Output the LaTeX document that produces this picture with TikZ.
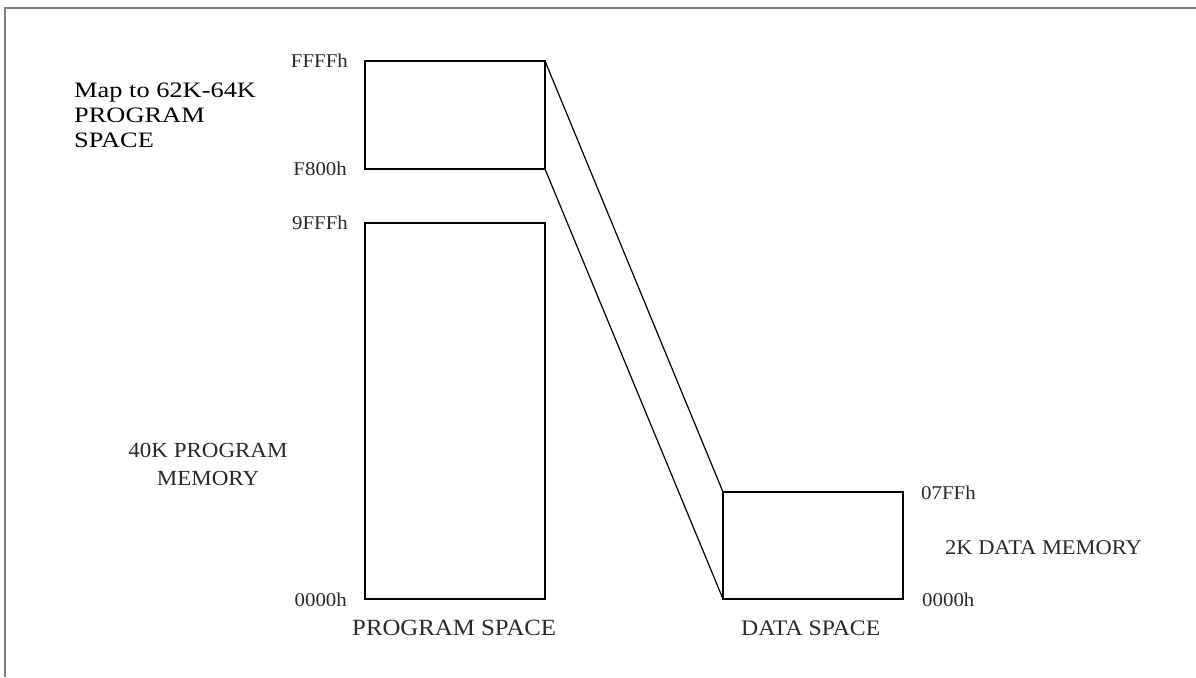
\documentclass[tikz,border=0pt]{standalone}
\usepackage{fontspec}
\setmainfont{Liberation Serif}
\newfontfamily\lblfont[FakeStretch=1.07]{Liberation Serif}
\newfontfamily\mapfont[FakeStretch=1.2]{Liberation Serif}
\definecolor{lblgray}{HTML}{2A2A2A}
\definecolor{framegray}{HTML}{808080}
\begin{document}
\begin{tikzpicture}[x=1pt,y=-1pt,
  membox/.style={draw=black,line width=1.2pt,inner sep=0pt,outer sep=0pt,minimum width=180pt},
  hexlbl/.style={inner sep=0pt,text=lblgray,font=\lblfont\fontsize{19.5}{22}\selectfont},
  biglbl/.style={inner sep=0pt,text=lblgray,font=\lblfont\fontsize{22.5}{28}\selectfont},
  conn/.style={draw=black,line width=1.2pt}]
\useasboundingbox (0,0) rectangle (1196,677);
\fill[white] (0,0) rectangle (1196,677);
% partial frame
\draw[framegray,line width=1.6pt] (5,677) -- (5,8) -- (1196,8);
% boxes
\node[membox,minimum height=108pt] (top) at (455,115) {};
\node[membox,minimum height=376pt] (prog) at (455,411) {};
\node[membox,minimum height=107pt] (data) at (813,545.5) {};
% connectors
\draw[conn] (top.north east) -- (data.north west);
\draw[conn] (top.south east) -- (data.south west);
% hex labels
\node[hexlbl,anchor=base east] (lffff) at (348,67.5) {FFFFh};
\node[hexlbl,anchor=base east] (lf800) at (347,175.5) {F800h};
\node[hexlbl,anchor=base east] (l9fff) at (348,229.5) {9FFFh};
\node[hexlbl,anchor=base east] (l0000p) at (347,606) {0000h};
\node[hexlbl,anchor=base west] (l07ff) at (921,499) {07FFh};
\node[hexlbl,anchor=base west] (l0000d) at (922,606) {0000h};
% descriptive labels
\node[inner sep=0pt,anchor=base west,align=left,text=black,
  font=\mapfont\fontsize{22}{25}\selectfont] (map) at (74,147.3)
  {Map to 62K-64K\\PROGRAM\\SPACE};
\node[biglbl,anchor=base,align=center,font=\lblfont\fontsize{21.5}{28}\selectfont] (mem40) at (208,485)
  {40K PROGRAM\\MEMORY};
\node[biglbl,anchor=base west,font=\lblfont\fontsize{21}{24}\selectfont] (mem2) at (945,554) {2K DATA MEMORY};
\node[biglbl,anchor=base west,font=\lblfont\fontsize{23.2}{26}\selectfont] (pspace) at (352,635) {PROGRAM SPACE};
\node[biglbl,anchor=base west,font=\lblfont\fontsize{22.2}{26}\selectfont] (dspace) at (741,635) {DATA SPACE};
\end{tikzpicture}
\end{document}
